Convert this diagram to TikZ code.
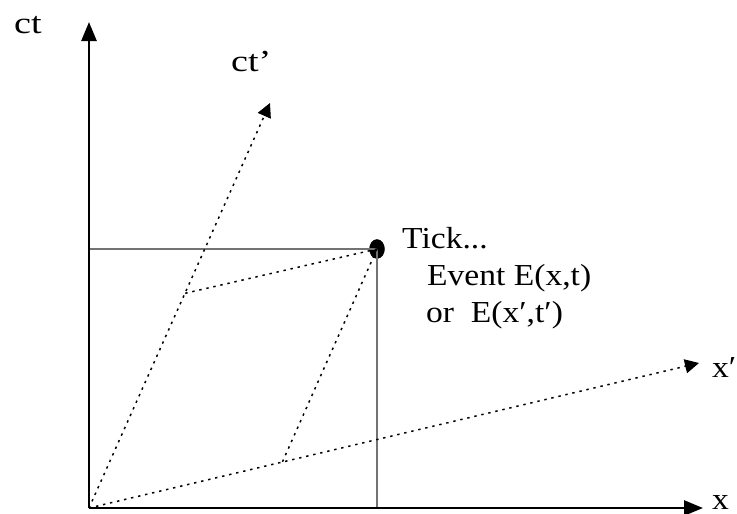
\documentclass[tikz,border=0pt]{standalone}
\usepackage{fontspec}
\setmainfont{Liberation Serif}
\usetikzlibrary{arrows.meta,calc,shapes.geometric}
\newcommand{\wide}[2]{\scalebox{#1}[1]{#2}}
\tikzset{
  axis/.style={line width=2.6pt, -{Triangle[length=19pt,width=15pt]}},
  slant/.style={line width=1.5pt, dash pattern=on 2.4pt off 4.8pt, -{Triangle[length=14pt,width=14pt]}},
  aux/.style={line width=1.5pt, dash pattern=on 2.4pt off 4.8pt},
  grid/.style={line width=1.1pt, draw=black!55},
  lbl/.style={inner sep=0pt, anchor=base west, font=\fontsize{30.5}{36}\selectfont},
}
\begin{document}
\begin{tikzpicture}[x=1pt,y=-1pt]
\useasboundingbox (0,0) rectangle (737,514);
\coordinate (O) at (89,508);
\coordinate (T) at (89,22);
\coordinate (X) at (703,508);
\coordinate (Tp) at (270,103);
\coordinate (Xp) at (699,363);
\coordinate (H) at (89,249);
\coordinate (V) at (377,508);
\coordinate (A) at ($(O)!0.53!(Tp)$);
\coordinate (B) at ($(O)!0.317!(Xp)$);
\node[draw, fill=black, ellipse, minimum width=15pt, minimum height=19pt, inner sep=0pt] (E) at (377,249) {};
\draw[grid] (H) -- (E.center);
\draw[grid] (E.center) -- (V);
\draw[aux] (E.center) -- (A);
\draw[aux] (E.center) -- (B);
\draw[slant] (O) -- (Tp);
\draw[slant] (O) -- (Xp);
\draw[axis] (O) -- (T);
\draw[axis] (O) -- (X);
\node[lbl] (ct) at (14,33) {\wide{1.25}{ct}};
\node[lbl] (ctp) at (231,71) {\wide{1.25}{ct’}};
\node[lbl] (xl) at (712,509) {\wide{1.1}{x}};
\node[lbl] (xpl) at (712,377) {\wide{1.1}{x′}};
\node[lbl] (tick) at (402,248) {\wide{1.1}{Tick...}};
\node[lbl] (ev) at (427,285) {\wide{1.1}{Event E(x,t)}};
\node[lbl] (or) at (426,322) {\wide{1.1}{or\ \ E(x′,t′)}};
\end{tikzpicture}
\end{document}
